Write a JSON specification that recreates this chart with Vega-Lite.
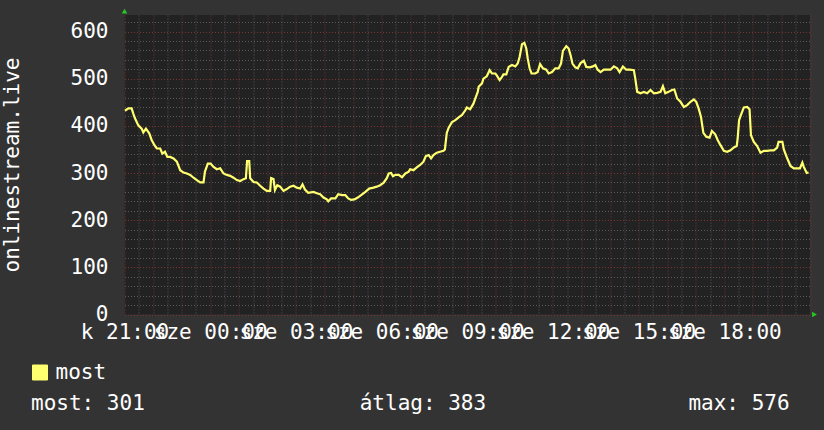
{
  "$schema": "https://vega.github.io/schema/vega-lite/v6.json",
  "width": 685.5,
  "height": 299.5,
  "autosize": {"type": "none"},
  "padding": {"left": 124.5, "top": 15, "right": 14, "bottom": 115.5},
  "background": "#333333",
  "config": {
    "view": {"fill": "#222222", "stroke": null},
    "font": "DejaVu Sans Mono",
    "axis": {
      "labelColor": "#ffffff",
      "labelFont": "DejaVu Sans Mono",
      "labelFontSize": 21,
      "titleColor": "#ffffff",
      "titleFont": "DejaVu Sans Mono",
      "titleFontSize": 21,
      "titleFontWeight": "normal",
      "ticks": false,
      "domain": false
    }
  },
  "title": {
    "text": "most: 301\u00a0\u00a0\u00a0\u00a0\u00a0\u00a0\u00a0\u00a0\u00a0\u00a0\u00a0\u00a0\u00a0\u00a0\u00a0\u00a0\u00a0átlag: 383\u00a0\u00a0\u00a0\u00a0\u00a0\u00a0\u00a0\u00a0\u00a0\u00a0\u00a0\u00a0\u00a0\u00a0\u00a0\u00a0max: 576",
    "orient": "bottom",
    "anchor": "start",
    "frame": "group",
    "dx": -93.5,
    "offset": 10,
    "font": "DejaVu Sans Mono",
    "fontSize": 21,
    "fontWeight": "normal",
    "color": "#ffffff"
  },
  "layer": [
    {
      "data": {"values": [
        {"perc": 1, "ertek": 432}, {"perc": 8, "ertek": 437}, {"perc": 15, "ertek": 437}, {"perc": 18.5, "ertek": 426}, {"perc": 22, "ertek": 416}, {"perc": 29, "ertek": 401}, {"perc": 36, "ertek": 394}, {"perc": 39.5, "ertek": 386}, {"perc": 45, "ertek": 394}, {"perc": 52, "ertek": 384}, {"perc": 57, "ertek": 370}, {"perc": 63, "ertek": 359}, {"perc": 68, "ertek": 352}, {"perc": 75, "ertek": 352}, {"perc": 79.5, "ertek": 341}, {"perc": 85, "ertek": 345}, {"perc": 90, "ertek": 334}, {"perc": 96, "ertek": 334}, {"perc": 103, "ertek": 331}, {"perc": 110, "ertek": 324}, {"perc": 117, "ertek": 306}, {"perc": 124, "ertek": 301}, {"perc": 131, "ertek": 299}, {"perc": 138, "ertek": 296}, {"perc": 145, "ertek": 290}, {"perc": 152, "ertek": 285}, {"perc": 159, "ertek": 280}, {"perc": 166, "ertek": 280}, {"perc": 169, "ertek": 303}, {"perc": 175, "ertek": 320}, {"perc": 181, "ertek": 320}, {"perc": 187, "ertek": 313}, {"perc": 194, "ertek": 308}, {"perc": 201, "ertek": 310}, {"perc": 208, "ertek": 299}, {"perc": 215, "ertek": 296}, {"perc": 222, "ertek": 294}, {"perc": 229, "ertek": 290}, {"perc": 236, "ertek": 285}, {"perc": 243, "ertek": 283}, {"perc": 250, "ertek": 287}, {"perc": 255, "ertek": 289}, {"perc": 257.5, "ertek": 325}, {"perc": 262, "ertek": 325}, {"perc": 264, "ertek": 289}, {"perc": 271, "ertek": 281}, {"perc": 278, "ertek": 280}, {"perc": 285, "ertek": 273}, {"perc": 292, "ertek": 267}, {"perc": 299, "ertek": 262}, {"perc": 306, "ertek": 262}, {"perc": 308, "ertek": 289}, {"perc": 313, "ertek": 287}, {"perc": 316, "ertek": 264}, {"perc": 321, "ertek": 274}, {"perc": 327, "ertek": 271}, {"perc": 334, "ertek": 262}, {"perc": 341, "ertek": 266}, {"perc": 348, "ertek": 271}, {"perc": 355, "ertek": 273}, {"perc": 362, "ertek": 269}, {"perc": 369, "ertek": 267}, {"perc": 374, "ertek": 276}, {"perc": 379, "ertek": 265}, {"perc": 386, "ertek": 258}, {"perc": 397, "ertek": 260}, {"perc": 404, "ertek": 257}, {"perc": 411, "ertek": 255}, {"perc": 418, "ertek": 248}, {"perc": 425, "ertek": 244}, {"perc": 428, "ertek": 240}, {"perc": 434, "ertek": 246}, {"perc": 443, "ertek": 246}, {"perc": 449, "ertek": 255}, {"perc": 457, "ertek": 253}, {"perc": 464, "ertek": 253}, {"perc": 470, "ertek": 246}, {"perc": 476, "ertek": 243}, {"perc": 483, "ertek": 244}, {"perc": 490, "ertek": 248}, {"perc": 497, "ertek": 253}, {"perc": 506, "ertek": 260}, {"perc": 514, "ertek": 267}, {"perc": 523, "ertek": 269}, {"perc": 530, "ertek": 271}, {"perc": 537, "ertek": 274}, {"perc": 544, "ertek": 279}, {"perc": 551, "ertek": 289}, {"perc": 555, "ertek": 299}, {"perc": 560, "ertek": 300}, {"perc": 564, "ertek": 293}, {"perc": 569, "ertek": 296}, {"perc": 576, "ertek": 296}, {"perc": 583, "ertek": 291}, {"perc": 590, "ertek": 299}, {"perc": 597, "ertek": 303}, {"perc": 600, "ertek": 308}, {"perc": 607, "ertek": 306}, {"perc": 614, "ertek": 312}, {"perc": 621, "ertek": 317}, {"perc": 628, "ertek": 324}, {"perc": 633, "ertek": 336}, {"perc": 639, "ertek": 338}, {"perc": 644, "ertek": 331}, {"perc": 649, "ertek": 338}, {"perc": 656, "ertek": 343}, {"perc": 663, "ertek": 345}, {"perc": 670, "ertek": 347}, {"perc": 673, "ertek": 350}, {"perc": 677, "ertek": 385}, {"perc": 681, "ertek": 396}, {"perc": 688, "ertek": 408}, {"perc": 695, "ertek": 412}, {"perc": 702, "ertek": 418}, {"perc": 709, "ertek": 423}, {"perc": 716, "ertek": 433}, {"perc": 719, "ertek": 439}, {"perc": 726, "ertek": 435}, {"perc": 733, "ertek": 447}, {"perc": 737, "ertek": 458}, {"perc": 742, "ertek": 472}, {"perc": 744, "ertek": 483}, {"perc": 751, "ertek": 490}, {"perc": 754, "ertek": 500}, {"perc": 761, "ertek": 505}, {"perc": 767, "ertek": 518}, {"perc": 772, "ertek": 511}, {"perc": 779, "ertek": 511}, {"perc": 782, "ertek": 507}, {"perc": 788, "ertek": 497}, {"perc": 793, "ertek": 504}, {"perc": 796, "ertek": 509}, {"perc": 802, "ertek": 509}, {"perc": 807, "ertek": 525}, {"perc": 814, "ertek": 529}, {"perc": 821, "ertek": 526}, {"perc": 826, "ertek": 532}, {"perc": 830, "ertek": 546}, {"perc": 835, "ertek": 573}, {"perc": 840, "ertek": 576}, {"perc": 844, "ertek": 564}, {"perc": 847, "ertek": 543}, {"perc": 851, "ertek": 522}, {"perc": 855, "ertek": 511}, {"perc": 863, "ertek": 511}, {"perc": 868, "ertek": 514}, {"perc": 873, "ertek": 531}, {"perc": 879, "ertek": 522}, {"perc": 886, "ertek": 519}, {"perc": 891, "ertek": 511}, {"perc": 898, "ertek": 514}, {"perc": 905, "ertek": 522}, {"perc": 912, "ertek": 522}, {"perc": 917, "ertek": 532}, {"perc": 921, "ertek": 559}, {"perc": 928, "ertek": 569}, {"perc": 933, "ertek": 564}, {"perc": 937, "ertek": 550}, {"perc": 941, "ertek": 532}, {"perc": 947, "ertek": 524}, {"perc": 952, "ertek": 522}, {"perc": 958, "ertek": 533}, {"perc": 965, "ertek": 538}, {"perc": 970, "ertek": 525}, {"perc": 977, "ertek": 524}, {"perc": 984, "ertek": 526}, {"perc": 989, "ertek": 529}, {"perc": 994, "ertek": 519}, {"perc": 1000, "ertek": 514}, {"perc": 1007, "ertek": 519}, {"perc": 1014, "ertek": 519}, {"perc": 1021, "ertek": 519}, {"perc": 1028, "ertek": 526}, {"perc": 1035, "ertek": 522}, {"perc": 1040, "ertek": 514}, {"perc": 1047, "ertek": 526}, {"perc": 1054, "ertek": 519}, {"perc": 1061, "ertek": 519}, {"perc": 1070, "ertek": 518}, {"perc": 1073, "ertek": 500}, {"perc": 1077, "ertek": 472}, {"perc": 1084, "ertek": 469}, {"perc": 1091, "ertek": 472}, {"perc": 1098, "ertek": 469}, {"perc": 1105, "ertek": 476}, {"perc": 1112, "ertek": 469}, {"perc": 1119, "ertek": 470}, {"perc": 1126, "ertek": 472}, {"perc": 1131, "ertek": 484}, {"perc": 1136, "ertek": 469}, {"perc": 1143, "ertek": 472}, {"perc": 1150, "ertek": 476}, {"perc": 1155, "ertek": 477}, {"perc": 1161, "ertek": 458}, {"perc": 1168, "ertek": 451}, {"perc": 1175, "ertek": 440}, {"perc": 1182, "ertek": 444}, {"perc": 1189, "ertek": 451}, {"perc": 1196, "ertek": 456}, {"perc": 1201, "ertek": 451}, {"perc": 1206, "ertek": 437}, {"perc": 1211, "ertek": 419}, {"perc": 1216, "ertek": 385}, {"perc": 1222, "ertek": 377}, {"perc": 1229, "ertek": 375}, {"perc": 1234, "ertek": 389}, {"perc": 1241, "ertek": 382}, {"perc": 1246, "ertek": 370}, {"perc": 1252, "ertek": 359}, {"perc": 1259, "ertek": 347}, {"perc": 1266, "ertek": 345}, {"perc": 1273, "ertek": 348}, {"perc": 1280, "ertek": 354}, {"perc": 1286, "ertek": 357}, {"perc": 1288, "ertek": 373}, {"perc": 1291, "ertek": 412}, {"perc": 1295, "ertek": 423}, {"perc": 1301, "ertek": 439}, {"perc": 1308, "ertek": 440}, {"perc": 1313, "ertek": 435}, {"perc": 1316, "ertek": 380}, {"perc": 1322, "ertek": 366}, {"perc": 1329, "ertek": 357}, {"perc": 1336, "ertek": 343}, {"perc": 1343, "ertek": 347}, {"perc": 1350, "ertek": 347}, {"perc": 1357, "ertek": 348}, {"perc": 1364, "ertek": 348}, {"perc": 1371, "ertek": 354}, {"perc": 1374, "ertek": 366}, {"perc": 1382, "ertek": 366}, {"perc": 1385, "ertek": 350}, {"perc": 1391, "ertek": 334}, {"perc": 1399, "ertek": 315}, {"perc": 1406, "ertek": 310}, {"perc": 1413, "ertek": 310}, {"perc": 1419, "ertek": 310}, {"perc": 1424, "ertek": 322}, {"perc": 1427, "ertek": 313}, {"perc": 1433, "ertek": 300}, {"perc": 1437, "ertek": 301}
      ]},
      "mark": {"type": "line", "strokeWidth": 2.2, "interpolate": "linear"},
      "encoding": {
        "x": {
          "field": "perc", "type": "quantitative",
          "scale": {"domain": [0, 1440], "nice": false, "zero": false},
          "axis": {
            "orient": "bottom", "title": null, "labels": false, "grid": true,
            "gridColor": "#5a5a5a", "gridDash": [1, 2], "gridWidth": 1,
            "values": [30, 90, 150, 210, 270, 330, 390, 450, 510, 570, 630, 690, 750, 810, 870, 930, 990, 1050, 1110, 1170, 1230, 1290, 1350, 1410]
          }
        },
        "y": {
          "field": "ertek", "type": "quantitative",
          "scale": {"domain": [0, 635], "nice": false},
          "axis": {
            "orient": "left", "title": null, "labels": false, "grid": true,
            "gridColor": "#5a5a5a", "gridDash": [1, 2], "gridWidth": 1,
            "values": [20, 40, 60, 80, 120, 140, 160, 180, 220, 240, 260, 280, 320, 340, 360, 380, 420, 440, 460, 480, 520, 540, 560, 580, 620]
          }
        },
        "color": {
          "datum": "most",
          "scale": {"domain": ["most"], "range": ["#ffff70"]},
          "legend": {
            "orient": "none", "legendX": -95, "legendY": 347, "title": null,
            "symbolType": "square", "symbolSize": 225,
            "labelFont": "DejaVu Sans Mono", "labelFontSize": 21, "labelColor": "#ffffff",
            "labelOffset": 5, "padding": 0,
            "encode": {"symbols": {"update": {"fill": {"value": "#ffff70"}, "stroke": {"value": "#000000"}, "strokeWidth": {"value": 1}, "opacity": {"value": 1}}}}
          }
        }
      }
    },
    {
      "data": {"values": [{"perc": 0, "ertek": 643}]},
      "mark": {"type": "point", "shape": "triangle-up", "filled": true, "color": "#22cc22", "size": 30, "opacity": 1, "clip": false},
      "encoding": {
        "x": {
          "field": "perc", "type": "quantitative",
          "axis": {
            "orient": "bottom", "title": null, "grid": true,
            "gridColor": "#7a3535", "gridDash": [1, 2], "gridWidth": 1,
            "values": [0, 60, 120, 180, 240, 300, 360, 420, 480, 540, 600, 660, 720, 780, 840, 900, 960, 1020, 1080, 1140, 1200, 1260, 1320, 1380, 1440],
            "labelExpr": "datum.value % 180 == 0 && datum.value < 1440 ? ['k 21:00','sze 00:00','sze 03:00','sze 06:00','sze 09:00','sze 12:00','sze 15:00','sze 18:00'][datum.value / 180] : ''",
            "labelOverlap": false, "labelFlush": false, "labelBound": false,
            "labelBaseline": "alphabetic", "labelPadding": 24, "labelAlign": "center"
          }
        },
        "y": {
          "field": "ertek", "type": "quantitative",
          "axis": {
            "orient": "left", "title": "onlinestream.live", "grid": true,
            "gridColor": "#7a3535", "gridDash": [1, 2], "gridWidth": 1,
            "values": [0, 100, 200, 300, 400, 500, 600],
            "labelPadding": 16.5, "labelOverlap": false, "labelFlush": false,
            "titleX": -106, "titleY": 149.5, "titleAngle": -90,
            "titleAlign": "center", "titleBaseline": "alphabetic"
          }
        }
      }
    },
    {
      "data": {"values": [{"perc": 1449.5, "ertek": 0}]},
      "mark": {"type": "point", "shape": "triangle-right", "filled": true, "color": "#22cc22", "size": 30, "opacity": 1, "clip": false},
      "encoding": {
        "x": {"field": "perc", "type": "quantitative", "axis": null},
        "y": {"field": "ertek", "type": "quantitative", "axis": null}
      }
    }
  ],
  "resolve": {"axis": {"x": "independent", "y": "independent"}}
}
